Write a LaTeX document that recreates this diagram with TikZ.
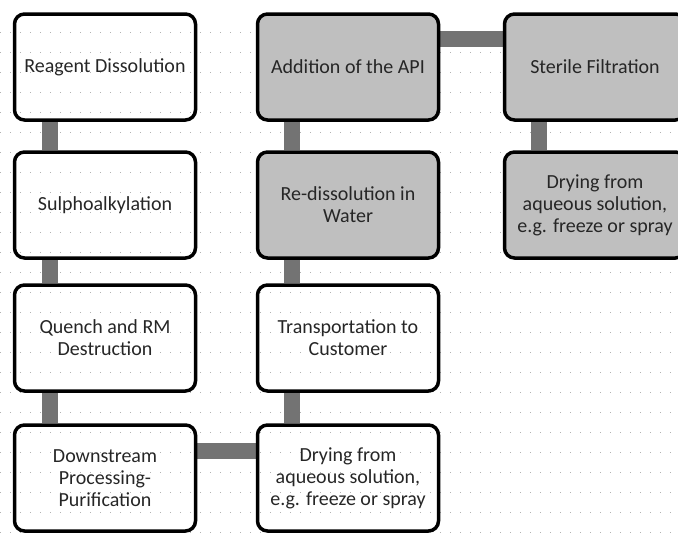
\documentclass[tikz,border=0pt]{standalone}
\usepackage{fontspec}
\setmainfont{Carlito}
\usetikzlibrary{positioning}
\usetikzlibrary{backgrounds}
\tikzset{stage/.style={draw, line width=3.5pt, rounded corners=10pt, minimum width=181, minimum height=106, inner sep=2pt, align=center, text=black!85, font=\fontsize{20}{22}\selectfont}}
\tikzset{shaded/.style={fill=black!25}}
\tikzset{link/.style={draw=black!55, line width=16pt}}
\tikzset{gridline/.style={draw=black!30, line width=0.7pt, dash pattern=on 0.7pt off 9.3pt}}

\begin{document}
\begin{tikzpicture}[x=1pt, y=-1pt]
\useasboundingbox (0,0) rectangle (678,533);
\clip (0,0) rectangle (678,533);
\begin{scope}[on grid]

\node[stage] (rd) at (105,67) {Reagent Dissolution};
\node[stage] (sa) [below=138pt of rd] {Sulphoalkylation};
\node[stage] (qr) [below=133pt of sa] {Quench and RM\\Destruction};
\node[stage] (dp) [below=140pt of qr] {Downstream\\Processing-\\Purification};

\node[stage] (dr) [right=243pt of dp] {Drying from\\aqueous solution,\\e.g. freeze or spray};
\node[stage] (tc) [above=140pt of dr] {Transportation to\\Customer};
\node[stage, shaded] (rw) [above=133pt of tc] {Re-dissolution in\\Water};
\node[stage, shaded] (api) [above=138pt of rw] {Addition of the API};

\node[stage, shaded] (sf) [right=247pt of api] {Sterile Filtration};
\node[stage, shaded] (fd) [below=138pt of sf] {Drying from\\aqueous solution,\\e.g. freeze or spray};

\begin{pgfonlayer}{background}
% faint dotted rules behind everything
\foreach \y in {32,52,...,532}
  \draw[gridline] (0,\y) -- (678,\y);

\draw[link] ([xshift=37pt]rd.south west) -- ([xshift=37pt]sa.north west);
\draw[link] ([xshift=37pt]sa.south west) -- ([xshift=37pt]qr.north west);
\draw[link] ([xshift=37pt]qr.south west) -- ([xshift=37pt]dp.north west);
\draw[link] ([yshift=-28pt]dp.north east) -- ([yshift=-28pt]dr.north west);
\draw[link] ([xshift=36pt]dr.north west) -- ([xshift=36pt]tc.south west);
\draw[link] ([xshift=36pt]tc.north west) -- ([xshift=36pt]rw.south west);
\draw[link] ([xshift=36pt]rw.north west) -- ([xshift=36pt]api.south west);
\draw[link] ([yshift=-27pt]api.north east) -- ([yshift=-27pt]sf.north west);
\draw[link] ([xshift=36pt]sf.south west) -- ([xshift=36pt]fd.north west);
\end{pgfonlayer}

\end{scope}
\end{tikzpicture}
\end{document}
